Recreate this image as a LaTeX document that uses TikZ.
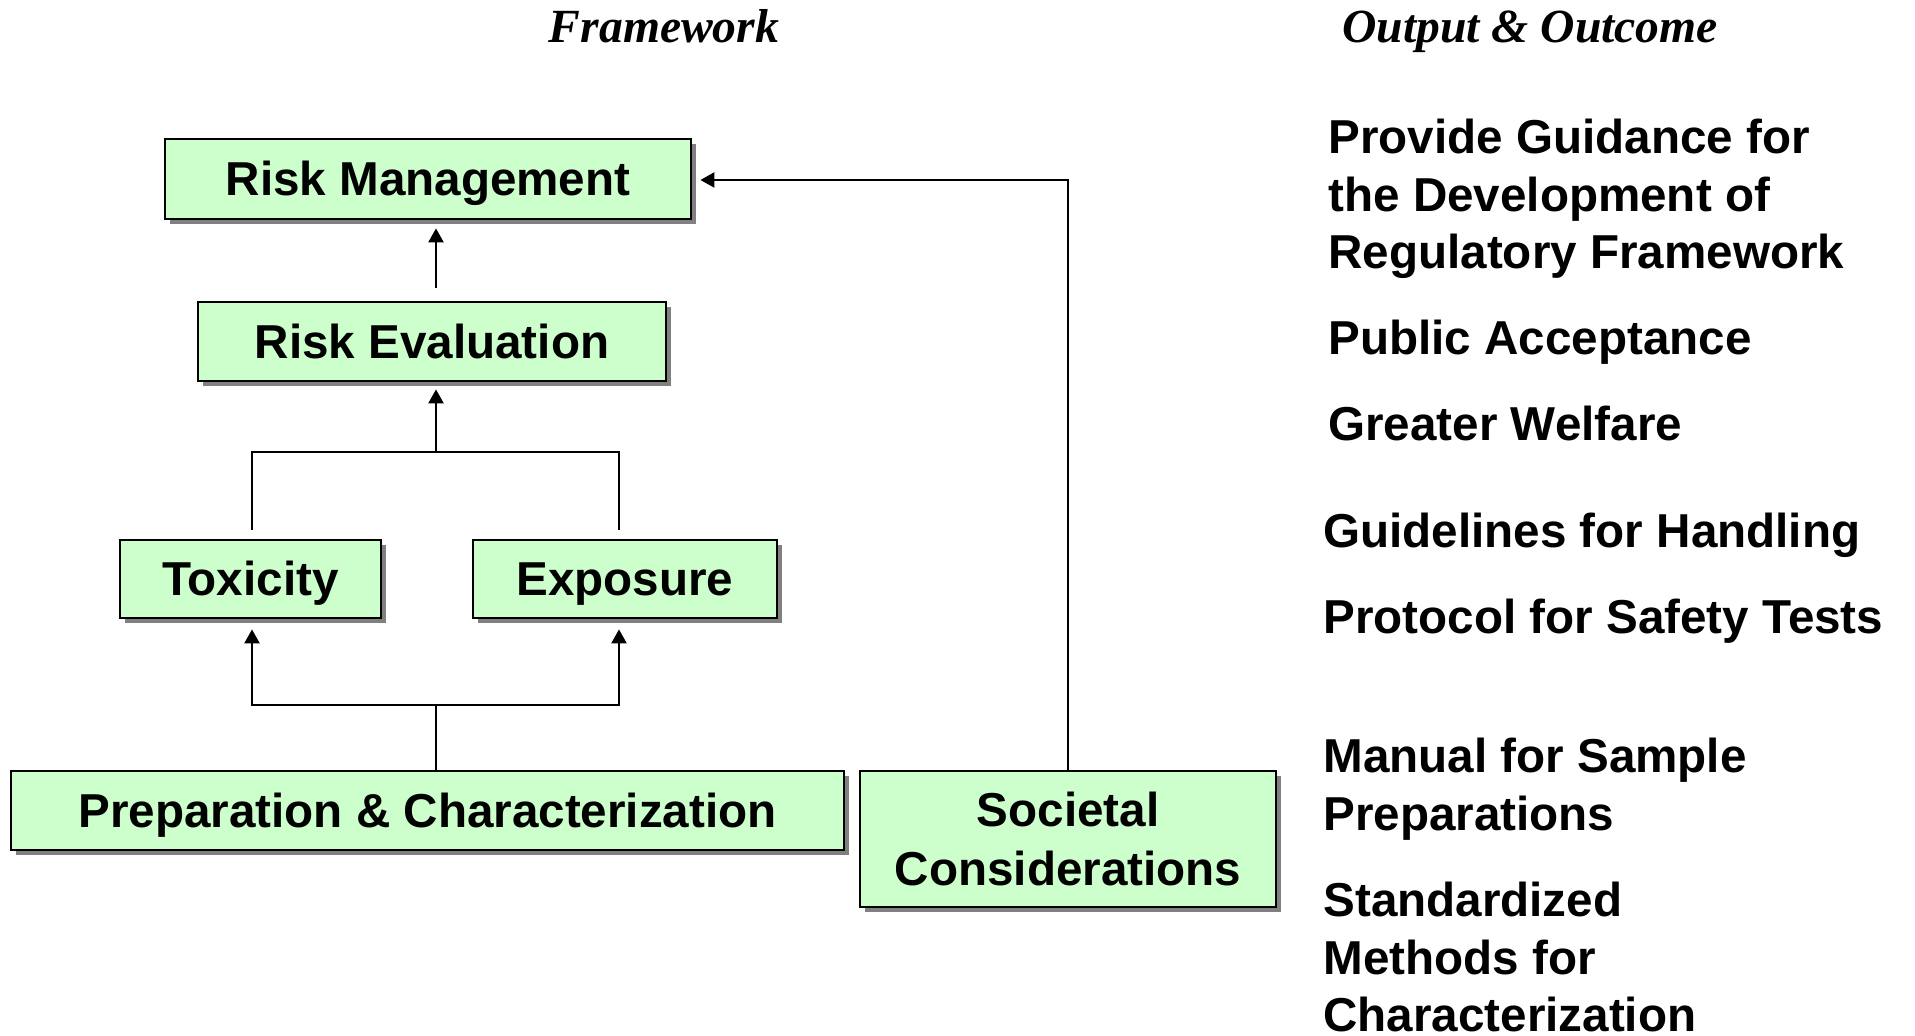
\documentclass[tikz,border=0pt]{standalone}
\usepackage{fontspec}
\setmainfont{Liberation Sans}
\newfontfamily\titlefont{Liberation Serif}
\usetikzlibrary{arrows.meta,shadows,calc}

\definecolor{boxgreen}{HTML}{CCFFCC}
\definecolor{shadowgray}{HTML}{808080}

\tikzset{
    stage/.style={draw=black, line width=1.4pt, fill=boxgreen, inner sep=0pt,
        align=center, font=\fontsize{23.8}{29.3}\selectfont\bfseries,
        drop shadow={shadow xshift=2.5pt, shadow yshift=-2.5pt,
            fill=shadowgray, opacity=1}},
    oneline/.style={text height=17pt, text depth=0pt},
    outcome/.style={anchor=north west, inner sep=0pt, align=left,
        font=\fontsize{23.8}{28.6}\selectfont\bfseries},
    heading/.style={inner sep=0pt, text height=16pt, text depth=0pt,
        font=\titlefont\fontsize{23.8}{28}\selectfont\bfseries\itshape},
    link/.style={line width=1.2pt},
    arr/.style={link, -{Triangle[length=7pt,width=7.5pt]}}
}

\begin{document}
\begin{tikzpicture}[x=0.5pt, y=-0.5pt]
\useasboundingbox (0,0) rectangle (1915,1036);

    % column headings
    \node [heading] (fwtitle) at (664,27) {Framework};
    \node [heading] (outtitle) at (1530,27) {Output \& Outcome};

    % framework boxes
    \node [stage, oneline, minimum width=263pt, minimum height=40pt] (rm) at (428,179) {Risk Management};
    \node [stage, oneline, minimum width=234pt, minimum height=39.5pt] (re) at (432,341.5) {Risk Evaluation};
    \node [stage, oneline, minimum width=130.5pt, minimum height=39pt] (tox) at (250.5,579) {Toxicity};
    \node [stage, oneline, minimum width=152pt, minimum height=39pt] (exp) at (625,579) {Exposure};
    \node [stage, oneline, minimum width=416.5pt, minimum height=39.5pt] (prep) at (427.5,810.5) {Preparation \& Characterization};
    \node [stage, minimum width=208pt, minimum height=68pt] (soc) at (1068,839) {Societal\\Considerations};

    \coordinate (join) at (436,452);                % meeting point above toxicity/exposure
    \coordinate (split) at (436,705);               % branching point above preparation

    % connectors
    \draw [arr] ($(re.north)+(4,-13)$) -- ($(rm.south)+(8,8)$);
    \draw [link] ($(tox.north)+(1.5,-9)$) |- (join) -| ($(exp.north)+(-6,-9)$);
    \draw [arr] (join) -- ($(re.south)+(4,7)$);
    \draw [link] (prep.north -| split) -- (split);
    \draw [arr] (split) -| ($(tox.south)+(1.5,10)$);
    \draw [arr] (split) -| ($(exp.south)+(-6,10)$);
    \draw [arr] (soc.north) |- ($(rm.east)+(8,1)$);

    % outputs and outcomes
    \node [outcome] (guide) at (1328,119) {Provide Guidance for\\the Development of\\Regulatory Framework};
    \node [outcome] (public) at (1328,320) {Public Acceptance};
    \node [outcome] (welfare) at (1328,406) {Greater Welfare};
    \node [outcome] (handling) at (1323,513) {Guidelines for Handling};
    \node [outcome] (protocol) at (1323,599) {Protocol for Safety Tests};
    \node [outcome] (manual) at (1323,738) {Manual for Sample\\Preparations};
    \node [outcome] (methods) at (1323,882) {Standardized\\Methods for\\Characterization};

\end{tikzpicture}
\end{document}
